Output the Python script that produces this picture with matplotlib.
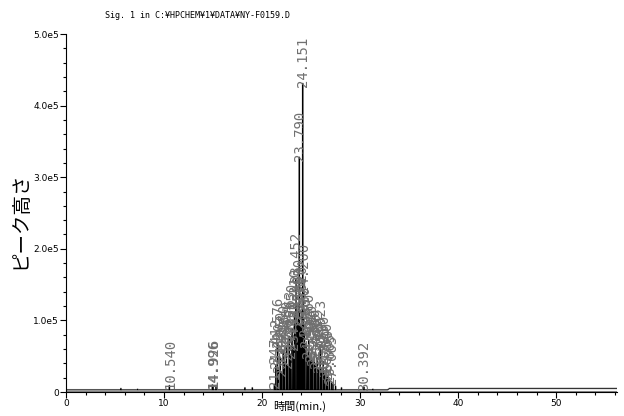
import matplotlib
matplotlib.use("Agg")
import matplotlib.pyplot as plt
from matplotlib.ticker import MultipleLocator
import numpy as np

TITLE = "Sig. 1 in C:\u00a5HPCHEM\u00a51\u00a5DATA\u00a5NY-F0159.D"
X_LABEL = "時間(min.)"
Y_LABEL = "ピーク高さ"

# retention time (min) and peak height (counts)
PEAK_TIMES = [5.60, 7.30, 10.540, 14.926, 14.996, 15.30, 18.25, 19.00,
              21.247, 21.412, 21.576, 21.690, 21.850, 22.012, 22.150, 22.318,
              22.480, 22.620, 22.763, 22.905, 23.050, 23.180, 23.310, 23.452,
              23.580, 23.690, 23.790, 23.905, 24.020, 24.151, 24.200, 24.330,
              24.480, 24.612, 24.760, 24.902, 25.050, 25.180, 25.330, 25.470,
              25.612, 25.770, 25.923, 26.080, 26.230, 26.385, 26.540, 26.700,
              26.865, 27.065, 27.230, 27.500, 28.10, 30.392, 31.30]
PEAK_HEIGHTS = [2e3, 1e3, 6e3, 7e3, 6e3, 4e3, 3e3, 3e3,
                8e3, 35e3, 65e3, 30e3, 45e3, 25e3, 55e3, 40e3,
                60e3, 35e3, 75e3, 50e3, 85e3, 60e3, 105e3, 155e3,
                95e3, 120e3, 325e3, 90e3, 110e3, 428e3, 140e3, 80e3,
                65e3, 50e3, 70e3, 45e3, 55e3, 40e3, 50e3, 35e3,
                45e3, 30e3, 62e3, 30e3, 40e3, 25e3, 30e3, 20e3,
                15e3, 12e3, 8e3, 5e3, 3e3, 4e3, 1e3]
# which peaks get a retention-time label
LABELLED = [10.540, 14.926, 14.996, 21.247, 21.412, 21.576, 21.690, 21.850,
            22.012, 22.150, 22.318, 22.480, 22.620, 22.763, 22.905, 23.050,
            23.180, 23.310, 23.452, 23.580, 23.690, 23.790, 23.905, 24.020,
            24.151, 24.200, 24.330, 24.480, 24.612, 24.760, 24.902, 25.050,
            25.180, 25.330, 25.470, 25.612, 25.770, 25.923, 26.080, 26.230,
            26.385, 26.540, 26.700, 26.865, 27.065, 30.392]

# baseline level before / after the step at ~33 min
BASE_TIMES = [0.0, 32.8, 33.0, 56.2]
BASE_LEVELS = [3e3, 3e3, 5e3, 5e3]

plt.rcParams['font.family'] = ['DejaVu Sans', 'Noto Sans CJK JP']

fig = plt.figure(figsize=(6.24, 4.16), dpi=100)
ax = fig.add_axes([66/624, 1-392/416, 551/624, 358/416])

# build the trace: baseline with narrow triangular peaks
w = 0.02
xs = [BASE_TIMES[0]]
ys = [BASE_LEVELS[0]]
for t, h in sorted(zip(PEAK_TIMES, PEAK_HEIGHTS)):
    b = np.interp(t, BASE_TIMES, BASE_LEVELS)
    xs += [t - w, t, t + w]
    ys += [b, b + h, b]
for t, l in zip(BASE_TIMES[1:], BASE_LEVELS[1:]):
    xs.append(t)
    ys.append(l)
order = np.argsort(xs, kind="stable")
xs = np.array(xs)[order]
ys = np.array(ys)[order]
ax.plot(xs, ys, color="#aaaaaa", lw=1.3)
ax.plot(xs, ys, color="black", lw=0.5)
ax.plot(BASE_TIMES, [1.2e3] * len(BASE_TIMES), color="#888888", lw=0.8)

for t, h in zip(PEAK_TIMES, PEAK_HEIGHTS):
    if t in LABELLED:
        b = np.interp(t, BASE_TIMES, BASE_LEVELS)
        ax.text(t + 0.05, b + h - 5e3, f"{t:.3f}", rotation=90, ha="center",
                va="bottom", fontsize=10, color="#707070",
                family="DejaVu Sans Mono")

ax.set_xlim(0, 56.2)
ax.set_ylim(0, 5e5)
ax.spines['top'].set_visible(False)
ax.spines['right'].set_visible(False)
ax.xaxis.set_major_locator(MultipleLocator(10))
ax.xaxis.set_minor_locator(MultipleLocator(2))
ax.yaxis.set_minor_locator(MultipleLocator(2e4))
ax.set_yticks([0, 1e5, 2e5, 3e5, 4e5, 5e5])
ax.set_yticklabels(["0", "1.0e5", "2.0e5", "3.0e5", "4.0e5", "5.0e5"])
ax.tick_params(which="major", length=4, width=0.8, labelsize=6.5, pad=1)
ax.tick_params(which="minor", length=2, width=0.8)

ax.set_xlabel(X_LABEL, fontsize=8, family=['Noto Sans CJK JP', 'DejaVu Sans'])
ax.xaxis.set_label_coords((300 - 66) / 551, (392 - 401) / 358)
ax.set_ylabel(Y_LABEL, fontsize=14, family=['Noto Sans CJK JP', 'DejaVu Sans'])
ax.yaxis.set_label_coords((30 - 66) / 551, (392 - 220) / 358)
fig.text(105/624, 1-15/416, TITLE, fontsize=6, va="center", ha="left",
         family=['DejaVu Sans Mono', 'Noto Sans CJK JP'])

fig.savefig("out.png", dpi=100)
